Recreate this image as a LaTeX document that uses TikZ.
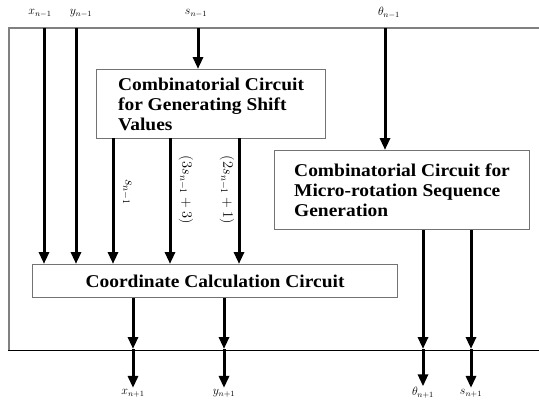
\documentclass[tikz,border=0pt]{standalone}
\usepackage{fontspec}
\setmainfont{Liberation Serif}
\newfontfamily\boxfont[FakeStretch=1.08]{Liberation Serif}
\usetikzlibrary{arrows.meta}
\begin{document}
\begin{tikzpicture}[x=1pt,y=-1pt,
  arr/.style={line width=3pt,-{Triangle[length=12pt,width=10pt]}},
  blk/.style={draw=black!55,line width=1.1pt,inner sep=0pt,anchor=north west,
    font=\boxfont\bfseries\fontsize{18}{20}\selectfont},
  io/.style={inner sep=1pt,font=\fontsize{12}{12}\selectfont},
  rl/.style={inner sep=0pt,rotate=-90,font=\fontsize{14.5}{14.5}\selectfont},
  frm/.style={draw=black!50,line width=2pt}]
\useasboundingbox (0,0) rectangle (539,400);
% frame
\draw[frm] (539,28) -- (9,28) -- (9,350);
\draw[line width=1pt] (8,350) -- (539,350);
% boxes
\node[blk,minimum width=229pt,minimum height=69pt,align=left] (b1) at (96,69)
  {Combinatorial Circuit\\for Generating Shift\\Values};
\node[blk,minimum width=255pt,minimum height=79pt,align=left] (b2) at (274,150)
  {Combinatorial Circuit for\\Micro-rotation Sequence\\Generation};
\node[blk,minimum width=365pt,minimum height=33pt,align=center] (b3) at (32,264)
  {Coordinate Calculation Circuit};
% input labels
\node[io] (lx) at (40,13) {$x_{n-1}$};
\node[io] (ly) at (81,13) {$y_{n-1}$};
\node[io] (ls) at (196,13) {$s_{n-1}$};
\node[io] (lt) at (389,13) {$\theta_{n-1}$};
\coordinate (fx) at (44,28);
\coordinate (fy) at (76,28);
\coordinate (fs) at (198,28);
\coordinate (ft) at (385,28);
\draw[arr] (fx) -- (fx |- b3.north);
\draw[arr] (fy) -- (fy |- b3.north);
\draw[arr] (fs) -- (fs |- b1.north);
\draw[arr] (ft) -- (ft |- b2.north);
% shift values
\coordinate (s1) at (113,138);
\coordinate (s2) at (170,138);
\coordinate (s3) at (239,138);
\draw[arr] (s1) -- (s1 |- b3.north);
\draw[arr] (s2) -- (s2 |- b3.north);
\draw[arr] (s3) -- (s3 |- b3.north);
\node[rl] (r1) at (127,192) {$s_{n-1}$};
\node[rl] (r2) at (186,190) {$(3s_{n-1}+3)$};
\node[rl] (r3) at (227,190) {$(2s_{n-1}+1)$};
% outputs
\node[io] (ox) at (133,393) {$x_{n+1}$};
\node[io] (oy) at (224,393) {$y_{n+1}$};
\node[io] (ot) at (423,393) {$\theta_{n+1}$};
\node[io] (os) at (471,393) {$s_{n+1}$};
\coordinate (cx) at (133,349);
\coordinate (cy) at (224,349);
\coordinate (ct) at (423,349);
\coordinate (cs) at (471,349);
\draw[arr] (cx |- b3.south) -- (cx);
\draw[arr] (cy |- b3.south) -- (cy);
\draw[arr] (ct |- b2.south) -- (ct);
\draw[arr] (cs |- b2.south) -- (cs);
\draw[arr] (cx) -- (ox.north);
\draw[arr] (cy) -- (oy.north);
\draw[arr] (ct) -- (ot.north);
\draw[arr] (cs) -- (os.north);
\end{tikzpicture}
\end{document}
